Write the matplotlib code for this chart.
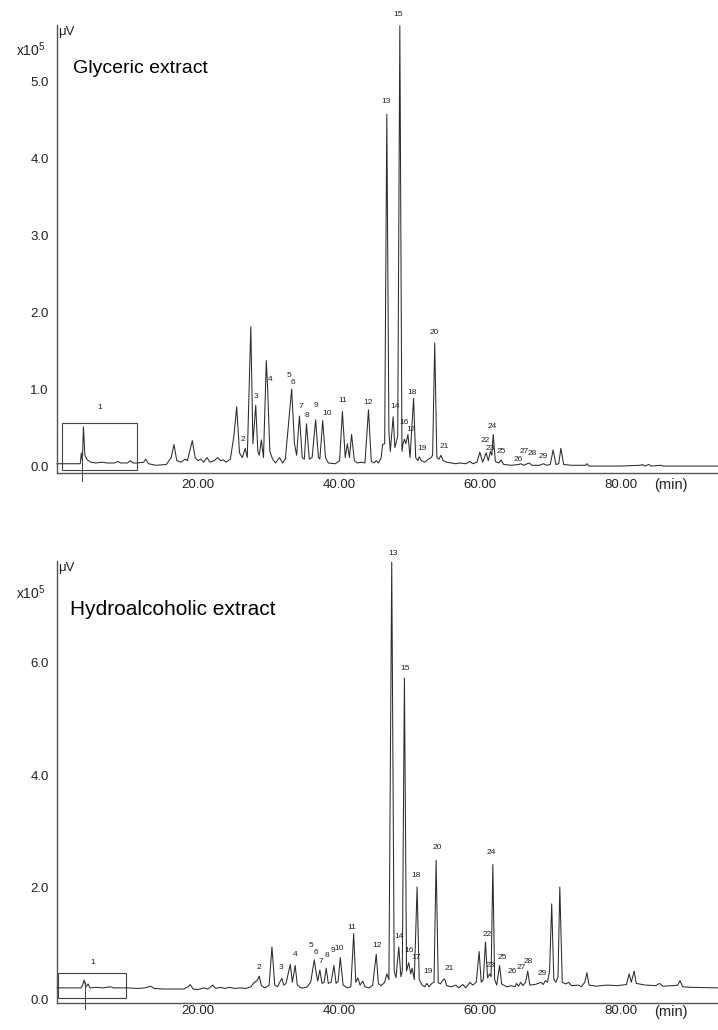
import numpy as np
import matplotlib
matplotlib.use("Agg")
import matplotlib.pyplot as plt
from matplotlib.patches import Rectangle

plt.rcParams['font.family'] = ['Liberation Sans', 'DejaVu Sans']
plt.rcParams['mathtext.fontset'] = 'custom'
plt.rcParams['mathtext.rm'] = 'Liberation Sans'
plt.rcParams['mathtext.default'] = 'regular'

# glyceric extract trace (time in min, signal in x10^5 uV)
glyc_trace = [
    (0.0, 0.04), (3.3, 0.04), (3.45, 0.18), (3.6, 0.08), (3.75, 0.52), (3.95, 0.15),
    (4.3, 0.09), (4.8, 0.06), (5.5, 0.05), (6.5, 0.06), (7.0, 0.05), (8.2, 0.05),
    (8.6, 0.07), (9.0, 0.05), (10.0, 0.05), (10.4, 0.08), (10.8, 0.05), (11.5, 0.05),
    (12.3, 0.06), (12.6, 0.1), (13.0, 0.04), (14.0, 0.02), (15.5, 0.03), (16.2, 0.12),
    (16.6, 0.29), (17.0, 0.08), (17.6, 0.06), (18.2, 0.1), (18.5, 0.08), (19.2, 0.34),
    (19.6, 0.12), (20.0, 0.08), (20.4, 0.1), (20.8, 0.06), (21.3, 0.12), (21.7, 0.06),
    (22.3, 0.08), (22.8, 0.12), (23.2, 0.08), (23.6, 0.09), (24.0, 0.06), (24.6, 0.1),
    (25.1, 0.4), (25.5, 0.78), (25.9, 0.18), (26.3, 0.12), (26.7, 0.24), (27.0, 0.12),
    (27.5, 1.82), (27.8, 0.3), (28.2, 0.8), (28.5, 0.2), (28.7, 0.15), (29.0, 0.35),
    (29.3, 0.12), (29.7, 1.38), (29.9, 1.0), (30.2, 0.2), (30.6, 0.1), (31.0, 0.05),
    (31.6, 0.12), (32.0, 0.05), (32.4, 0.1), (32.9, 0.6), (33.3, 1.01), (33.7, 0.3),
    (34.0, 0.15), (34.4, 0.66), (34.8, 0.12), (35.1, 0.1), (35.4, 0.56), (35.8, 0.1),
    (36.2, 0.12), (36.7, 0.61), (37.1, 0.12), (37.3, 0.1), (37.7, 0.6), (38.1, 0.12),
    (38.5, 0.05), (39.5, 0.04), (40.1, 0.08), (40.5, 0.72), (40.9, 0.12), (41.2, 0.3),
    (41.5, 0.12), (41.8, 0.42), (42.2, 0.08), (42.6, 0.05), (43.2, 0.06), (43.7, 0.05),
    (44.2, 0.74), (44.6, 0.07), (45.0, 0.05), (45.3, 0.08), (45.6, 0.05), (46.0, 0.12),
    (46.2, 0.29), (46.5, 0.3), (46.8, 4.58), (47.1, 0.45), (47.3, 0.2), (47.7, 0.65),
    (47.95, 0.25), (48.1, 0.3), (48.35, 0.4), (48.65, 5.73), (48.95, 0.2), (49.1, 0.3),
    (49.3, 0.36), (49.5, 0.3), (49.8, 0.42), (50.1, 0.12), (50.6, 0.89), (50.9, 0.12),
    (51.2, 0.08), (51.4, 0.13), (51.7, 0.08), (52.2, 0.06), (52.7, 0.1), (53.1, 0.12),
    (53.3, 0.15), (53.6, 1.61), (53.9, 0.12), (54.2, 0.1), (54.5, 0.15), (54.8, 0.08),
    (55.3, 0.06), (56.0, 0.05), (56.6, 0.04), (57.2, 0.05), (58.0, 0.04), (58.6, 0.07),
    (59.0, 0.04), (59.6, 0.06), (60.0, 0.19), (60.4, 0.06), (60.9, 0.18), (61.2, 0.08),
    (61.5, 0.2), (61.7, 0.15), (61.9, 0.42), (62.2, 0.07), (62.7, 0.05), (63.0, 0.09),
    (63.4, 0.03), (64.5, 0.02), (65.5, 0.03), (65.8, 0.04), (66.2, 0.02), (67.0, 0.05),
    (67.4, 0.02), (68.5, 0.02), (69.0, 0.04), (69.5, 0.02), (70.0, 0.03), (70.4, 0.22),
    (70.8, 0.03), (71.2, 0.04), (71.5, 0.24), (71.9, 0.03), (73.0, 0.02), (75.0, 0.02),
    (75.2, 0.04), (75.5, 0.01), (80.0, 0.01), (82.8, 0.02), (83.1, 0.03), (83.4, 0.01),
    (84.0, 0.03), (84.3, 0.01), (85.7, 0.02), (86.0, 0.01), (93.8, 0.01),
]

# peak numbers and where their labels sit (time, signal)
glyc_labels = [
    ('1', 6.0, 0.77), ('2', 26.4, 0.35), ('3', 28.2, 0.91), ('4', 30.2, 1.13),
    ('5', 32.9, 1.18), ('6', 33.5, 1.09), ('7', 34.6, 0.78), ('8', 35.5, 0.67),
    ('9', 36.7, 0.80), ('10', 38.3, 0.69), ('11', 40.5, 0.86), ('12', 44.2, 0.84),
    ('13', 46.7, 4.74), ('14', 48.0, 0.79), ('15', 48.4, 5.88), ('16', 49.3, 0.57),
    ('17', 50.2, 0.48), ('18', 50.4, 0.97), ('19', 51.8, 0.24), ('20', 53.6, 1.75),
    ('21', 55.0, 0.26), ('22', 60.8, 0.34), ('23', 61.5, 0.24), ('24', 61.7, 0.53),
    ('25', 63.0, 0.20), ('26', 65.4, 0.10), ('27', 66.3, 0.20), ('28', 67.5, 0.17),
    ('29', 69.0, 0.13),
]

# hydroalcoholic extract trace
hydro_trace = [
    (0.0, 0.2), (3.4, 0.2), (3.6, 0.24), (3.85, 0.34), (4.1, 0.22), (4.4, 0.27),
    (4.7, 0.2), (5.5, 0.21), (6.5, 0.2), (7.6, 0.22), (8.0, 0.2), (10.0, 0.2),
    (11.5, 0.19), (12.5, 0.2), (13.3, 0.23), (13.8, 0.19), (15.0, 0.18), (18.0, 0.18),
    (18.6, 0.22), (18.9, 0.26), (19.3, 0.18), (20.0, 0.17), (20.8, 0.2), (21.4, 0.18),
    (22.1, 0.25), (22.5, 0.19), (23.2, 0.21), (23.8, 0.19), (24.5, 0.21), (25.2, 0.19),
    (26.0, 0.2), (26.8, 0.19), (27.5, 0.22), (28.0, 0.3), (28.4, 0.33), (28.7, 0.41),
    (29.0, 0.24), (29.5, 0.2), (30.1, 0.25), (30.5, 0.93), (30.9, 0.25), (31.3, 0.22),
    (31.6, 0.3), (31.9, 0.37), (32.2, 0.25), (32.5, 0.28), (32.8, 0.45), (33.1, 0.62),
    (33.4, 0.3), (33.8, 0.6), (34.1, 0.25), (34.6, 0.2), (35.0, 0.2), (35.5, 0.22),
    (36.0, 0.3), (36.5, 0.7), (36.8, 0.45), (37.0, 0.32), (37.3, 0.52), (37.6, 0.28),
    (37.9, 0.3), (38.2, 0.55), (38.5, 0.28), (38.9, 0.3), (39.3, 0.6), (39.6, 0.28),
    (39.9, 0.32), (40.2, 0.74), (40.6, 0.25), (41.2, 0.2), (41.7, 0.22), (42.1, 1.17),
    (42.4, 0.3), (42.7, 0.38), (43.0, 0.25), (43.4, 0.32), (43.7, 0.22), (44.3, 0.2),
    (44.8, 0.25), (45.3, 0.8), (45.6, 0.28), (46.0, 0.24), (46.5, 0.3), (46.8, 0.45),
    (47.1, 0.35), (47.5, 7.8), (47.85, 0.5), (48.1, 0.38), (48.5, 0.93), (48.8, 0.4),
    (49.0, 0.5), (49.3, 5.73), (49.6, 0.5), (49.9, 0.65), (50.2, 0.45), (50.4, 0.55),
    (50.7, 0.35), (51.1, 2.0), (51.4, 0.35), (51.8, 0.25), (52.2, 0.22), (52.5, 0.28),
    (52.8, 0.22), (53.2, 0.28), (53.5, 0.3), (53.8, 2.48), (54.1, 0.3), (54.4, 0.27),
    (54.7, 0.33), (55.0, 0.36), (55.3, 0.24), (56.0, 0.22), (56.6, 0.25), (57.0, 0.2),
    (57.6, 0.26), (58.0, 0.2), (58.6, 0.3), (59.0, 0.25), (59.5, 0.3), (59.9, 0.85),
    (60.2, 0.3), (60.5, 0.35), (60.8, 1.02), (61.1, 0.38), (61.4, 0.45), (61.6, 0.4),
    (61.85, 2.4), (62.1, 0.35), (62.4, 0.25), (62.8, 0.6), (63.1, 0.27), (63.8, 0.22),
    (64.5, 0.24), (65.0, 0.22), (65.2, 0.28), (65.5, 0.23), (65.8, 0.3), (66.1, 0.24),
    (66.5, 0.3), (66.8, 0.5), (67.1, 0.25), (67.8, 0.26), (68.3, 0.28), (68.7, 0.3),
    (69.0, 0.26), (69.3, 0.33), (69.6, 0.3), (69.9, 0.5), (70.2, 1.7), (70.5, 0.35),
    (70.8, 0.3), (71.1, 0.4), (71.35, 2.0), (71.7, 0.3), (72.2, 0.27), (72.6, 0.3),
    (73.0, 0.24), (74.0, 0.25), (74.4, 0.22), (74.9, 0.3), (75.2, 0.47), (75.5, 0.25),
    (76.5, 0.23), (78.0, 0.25), (79.5, 0.24), (80.8, 0.26), (81.2, 0.45), (81.5, 0.3),
    (81.9, 0.5), (82.2, 0.28), (83.5, 0.25), (85.0, 0.24), (85.5, 0.28), (86.0, 0.23),
    (87.5, 0.24), (88.1, 0.25), (88.4, 0.33), (88.8, 0.22), (90.0, 0.21), (93.8, 0.2),
]

hydro_labels = [
    ('1', 5.1, 0.65), ('2', 28.7, 0.57), ('3', 31.8, 0.56), ('4', 33.8, 0.80),
    ('5', 36.0, 0.95), ('6', 36.7, 0.84), ('7', 37.5, 0.68), ('8', 38.3, 0.77),
    ('9', 39.1, 0.86), ('10', 40.1, 0.91), ('11', 41.9, 1.28), ('12', 45.4, 0.96),
    ('13', 47.7, 7.96), ('14', 48.6, 1.12), ('15', 49.4, 5.90), ('16', 50.0, 0.86),
    ('17', 50.9, 0.75), ('18', 50.9, 2.20), ('19', 52.6, 0.49), ('20', 53.9, 2.70),
    ('21', 55.6, 0.55), ('22', 61.0, 1.16), ('23', 61.5, 0.60), ('24', 61.6, 2.62),
    ('25', 63.2, 0.75), ('26', 64.6, 0.49), ('27', 65.9, 0.57), ('28', 66.8, 0.68),
    ('29', 68.8, 0.46),
]

x_ticks = [20, 40, 60, 80]
glyc_yticks = [0, 1, 2, 3, 4, 5]
hydro_yticks = [0, 2, 4, 6]

# zoom boxes around peak 1: (t0, y0, t1, y1) and marker line (t, y_top)
glyc_box = (0.7, -0.04, 11.3, 0.575)
glyc_mark = (3.6, 0.18)
hydro_box = (0.2, 0.02, 9.85, 0.46)
hydro_mark = (4.0, 0.31)

fig = plt.figure(figsize=(7.18, 10.30), dpi=100)
ax1 = fig.add_axes([0.0794, 0.5408, 0.9206, 0.4349])
ax2 = fig.add_axes([0.0794, 0.0262, 0.9206, 0.4291])

line_c = '#2b2b2b'
axis_c = '#555555'
text_c = '#222222'


def draw_panel(ax, trace, labels, yticks, ylim, box, mark, title, tsize, tpos, x10pos, xpad, minpos):
    t = np.array([p[0] for p in trace])
    v = np.array([p[1] for p in trace])
    ax.plot(t, v, color=line_c, lw=0.75, clip_on=False)
    for lab, lt, lv in labels:
        ax.text(lt, lv, lab, fontsize=6, ha='center', va='center', color=text_c,
                clip_on=False)
    ax.add_patch(Rectangle((box[0], box[1]), box[2] - box[0], box[3] - box[1],
                           fill=False, ec='#444444', lw=0.8, clip_on=False))
    ax.plot([mark[0], mark[0]], [mark[1], ylim[0] - 0.1], color='#444444', lw=0.7,
            clip_on=False)
    ax.set_xlim(0, 93.8)
    ax.set_ylim(*ylim)
    ax.set_xticks(x_ticks)
    ax.set_xticklabels([f'{x:.2f}' for x in x_ticks])
    ax.set_yticks(yticks)
    ax.set_yticklabels([f'{y:.1f}' for y in yticks])
    ax.tick_params(axis='both', length=0, labelsize=9.5, colors=text_c)
    ax.tick_params(axis='x', pad=xpad)
    ax.tick_params(axis='y', pad=6)
    for s in ['top', 'right']:
        ax.spines[s].set_visible(False)
    for s in ['left', 'bottom']:
        ax.spines[s].set_color(axis_c)
        ax.spines[s].set_linewidth(1.0)
    ax.text(tpos[0], tpos[1], title, transform=ax.transAxes, fontsize=tsize,
            ha='left', va='center', color='black')
    ax.text(0.001, 0.985, 'μV', transform=ax.transAxes, fontsize=9.5,
            ha='left', va='center', color=text_c)
    ax.text(x10pos[0], x10pos[1], 'x10$^5$', transform=ax.transAxes, fontsize=10,
            ha='left', va='center', color=text_c)
    ax.text(0.929, minpos, '(min)', transform=ax.transAxes, fontsize=10.5,
            ha='center', va='top', color=text_c)


draw_panel(ax1, glyc_trace, glyc_labels, glyc_yticks, (-0.08, 5.74),
           glyc_box, glyc_mark, 'Glyceric extract', 14, (0.024, 0.904),
           (-0.062, 0.946), 4, -0.012)
draw_panel(ax2, hydro_trace, hydro_labels, hydro_yticks, (-0.07, 7.82),
           hydro_box, hydro_mark, 'Hydroalcoholic extract', 15, (0.02, 0.891),
           (-0.062, 0.928), 1.5, -0.005)

fig.savefig('out.png', dpi=100, facecolor='white')
